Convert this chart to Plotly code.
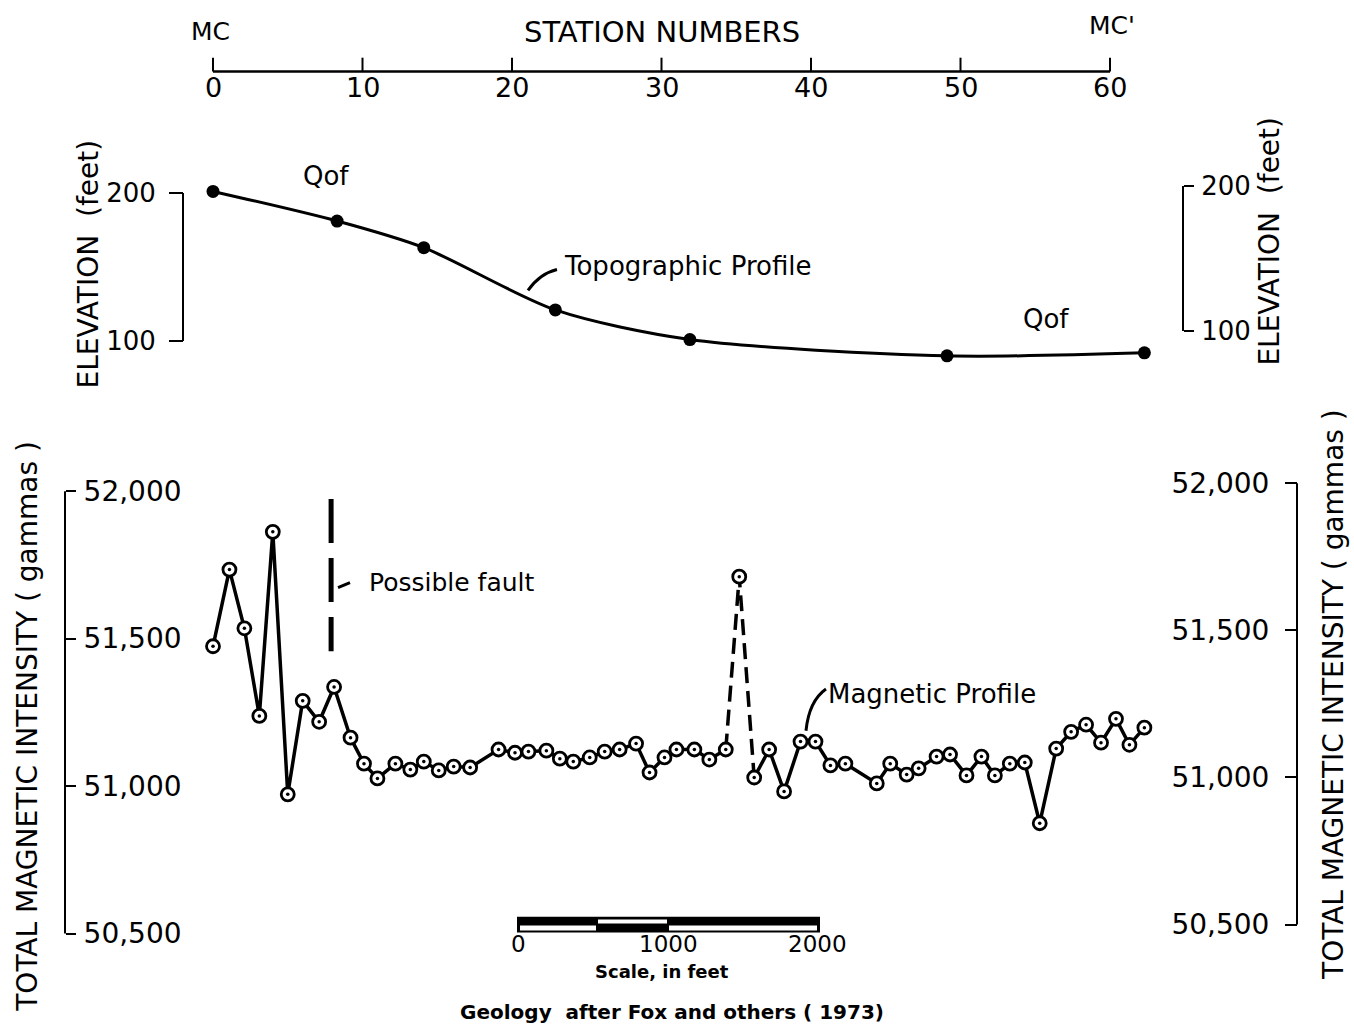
import plotly.graph_objects as go

W, H = 1354, 1026
FONT = "DejaVu Sans"

# ---------------- data ----------------
station_ticks = [0, 10, 20, 30, 40, 50, 60]

topo_station = [0.0, 8.3, 14.1, 22.9, 31.9, 49.1, 62.3]
topo_elev = [201, 181, 163, 121, 101, 90, 92]

mag_station = [0.0, 1.1, 2.1, 3.1, 4.0, 5.0, 6.0, 7.1, 8.1, 9.2,
               10.1, 11.0, 12.2, 13.2, 14.1, 15.1, 16.1, 17.2, 19.1, 20.2,
               21.1, 22.3, 23.2, 24.1, 25.2, 26.2, 27.2, 28.3, 29.2, 30.2,
               31.0, 32.2, 33.2, 34.3, 35.2, 36.2, 37.2, 38.2, 39.3, 40.3,
               41.3, 42.3, 44.4, 45.3, 46.4, 47.2, 48.4, 49.3, 50.4, 51.4,
               52.3, 53.3, 54.3, 55.3, 56.4, 57.4, 58.4, 59.4, 60.4, 61.3,
               62.3]
mag_gamma = [51474, 51734, 51535, 51238, 51862, 50972, 51289, 51218, 51336, 51164,
             51076, 51026, 51076, 51056, 51083, 51053, 51066, 51063, 51124, 51113,
             51117, 51120, 51093, 51083, 51097, 51117, 51124, 51144, 51046, 51097,
             51124, 51124, 51090, 51124, 51710, 51029, 51124, 50982, 51151, 51151,
             51070, 51076, 51009, 51076, 51039, 51060, 51100, 51107, 51036, 51100,
             51036, 51076, 51080, 50874, 51127, 51184, 51208, 51147, 51228, 51140,
             51198]
dash_start, dash_end = 33, 35   # segment drawn dashed (indices into mag arrays)

elev_ticks = [100, 200]
mag_ticks = [50500, 51000, 51500, 52000]
mag_tick_text = ["50,500", "51,000", "51,500", "52,000"]

fault_station = 7.9
fault_gamma = [51973, 51457]

scale_ticks = ["0", "1000", "2000"]

# ---------------- geometry helpers ----------------
def px(x):
    return x / W

def py(y):
    return 1 - y / H

def axis_range(v1, p1, v2, p2, top, bottom):
    k = (p2 - p1) / (v1 - v2)
    return [v1 - (bottom - p1) / k, v1 + (p1 - top) / k]

X0_PX, PX_PER_ST = 213, 14.95
x_range = [(0 - X0_PX) / PX_PER_ST, (W - X0_PX) / PX_PER_ST]

EL_TOP, EL_BOT = 150, 370
MG_TOP, MG_BOT = 470, 950
el_dom = [py(EL_BOT), py(EL_TOP)]
mg_dom = [py(MG_BOT), py(MG_TOP)]
el_range_l = axis_range(200, 189, 100, 338, EL_TOP, EL_BOT)
el_range_r = axis_range(200, 182, 100, 328, EL_TOP, EL_BOT)
mg_range_l = axis_range(52000, 489, 50500, 934, MG_TOP, MG_BOT)
mg_range_r = axis_range(52000, 481, 50500, 925, MG_TOP, MG_BOT)

fig = go.Figure()

# topographic profile
fig.add_trace(go.Scatter(
    x=topo_station, y=topo_elev, xaxis="x", yaxis="y",
    mode="lines+markers", line=dict(color="black", width=3, shape="spline", smoothing=0.8),
    marker=dict(color="black", size=13), hoverinfo="skip"))

# magnetic profile: solid / dashed / solid
fig.add_trace(go.Scatter(
    x=mag_station[:dash_start + 1], y=mag_gamma[:dash_start + 1], xaxis="x", yaxis="y3",
    mode="lines", line=dict(color="black", width=3.5), hoverinfo="skip"))
fig.add_trace(go.Scatter(
    x=mag_station[dash_start:dash_end + 1], y=mag_gamma[dash_start:dash_end + 1],
    xaxis="x", yaxis="y3", mode="lines",
    line=dict(color="black", width=3.5, dash="16px,8px"), hoverinfo="skip"))
fig.add_trace(go.Scatter(
    x=mag_station[dash_end:], y=mag_gamma[dash_end:], xaxis="x", yaxis="y3",
    mode="lines", line=dict(color="black", width=3.5), hoverinfo="skip"))
fig.add_trace(go.Scatter(
    x=mag_station, y=mag_gamma, xaxis="x", yaxis="y3", mode="markers",
    marker=dict(symbol="circle", size=13, color="white", line=dict(color="black", width=2.8)),
    hoverinfo="skip"))
fig.add_trace(go.Scatter(
    x=mag_station, y=mag_gamma, xaxis="x", yaxis="y3", mode="markers",
    marker=dict(symbol="circle", size=3.5, color="black"), hoverinfo="skip"))

tickfont = dict(family=FONT, size=26, color="black")
magtickfont = dict(family=FONT, size=28, color="black")
common_y = dict(showgrid=False, zeroline=False, showline=False, ticks="outside",
                tickcolor="black", tickwidth=2, anchor="free")

shapes = []
annotations = []

# ---- top station scale ----
TOP_LINE = 67
shapes.append(dict(type="line", xref="x", yref="paper", x0=station_ticks[0], x1=station_ticks[-1],
                   y0=py(TOP_LINE), y1=py(TOP_LINE), line=dict(color="black", width=2.5)))
for s in station_ticks:
    shapes.append(dict(type="line", xref="x", yref="paper", x0=s, x1=s,
                       y0=py(TOP_LINE), y1=py(53), line=dict(color="black", width=2)))
    annotations.append(dict(x=s, y=py(83), xref="x", yref="paper", text=str(s), showarrow=False,
                            xanchor="center", yanchor="middle",
                            font=dict(family=FONT, size=27, color="black")))
annotations += [
    dict(x=px(210), y=py(27), text="MC", font=dict(family=FONT, size=25, color="black")),
    dict(x=px(1112), y=py(21), text="MC'", font=dict(family=FONT, size=25, color="black")),
    dict(x=px(662), y=py(27), text="STATION NUMBERS", font=dict(family=FONT, size=29, color="black")),
]

# ---- axis lines ----
shapes += [
    dict(type="line", xref="paper", yref="y", x0=px(183), x1=px(183), y0=100, y1=200,
         line=dict(color="black", width=2)),
    dict(type="line", xref="paper", yref="y2", x0=px(1183), x1=px(1183), y0=100, y1=200,
         line=dict(color="black", width=2)),
    dict(type="line", xref="paper", yref="y3", x0=px(65), x1=px(65), y0=50500, y1=52000,
         line=dict(color="black", width=2)),
    dict(type="line", xref="paper", yref="y4", x0=px(1297), x1=px(1297), y0=50500, y1=52000,
         line=dict(color="black", width=2)),
]

# ---- possible fault ----
shapes.append(dict(type="line", xref="x", yref="y3", x0=fault_station, x1=fault_station,
                   y0=fault_gamma[0], y1=fault_gamma[1],
                   line=dict(color="black", width=5, dash="44px,15px")))

# leader strokes
shapes += [
    dict(type="path", xref="paper", yref="paper",
         path=f"M {px(338):.5f},{py(586):.5f} L {px(350):.5f},{py(581):.5f}",
         line=dict(color="black", width=3)),
    dict(type="path", xref="paper", yref="paper",
         path=f"M {px(806):.5f},{py(730):.5f} Q {px(809):.5f},{py(700):.5f} {px(826):.5f},{py(688):.5f}",
         line=dict(color="black", width=3)),
    dict(type="path", xref="paper", yref="paper",
         path=f"M {px(528):.5f},{py(287):.5f} Q {px(540):.5f},{py(270):.5f} {px(557):.5f},{py(266):.5f}",
         line=dict(color="black", width=3)),
]

lab = dict(family=FONT, size=26, color="black")
annotations += [
    dict(x=px(326), y=py(172), text="Qof", font=lab),
    dict(x=px(1046), y=py(316), text="Qof", font=lab),
    dict(x=px(688), y=py(263), text="Topographic Profile", font=lab),
    dict(x=px(932), y=py(693), text="Magnetic Profile", font=lab),
    dict(x=px(452), y=py(581), text="Possible fault", font=dict(family=FONT, size=25, color="black")),
]

# ---- axis titles ----
title_font = dict(family=FONT, size=28, color="black")
annotations += [
    dict(x=px(88), y=py(260), text="ELEVATION  (feet)", textangle=-90, font=title_font),
    dict(x=px(1270), y=py(238), text="ELEVATION  (feet)", textangle=-90, font=title_font),
    dict(x=px(28), y=py(726), text="TOTAL MAGNETIC INTENSITY ( gammas )", textangle=-90,
         font=title_font),
    dict(x=px(1334), y=py(694), text="TOTAL MAGNETIC INTENSITY ( gammas )", textangle=-90,
         font=title_font),
]

# ---- scale bar ----
shapes += [
    dict(type="rect", xref="paper", yref="paper", x0=px(517), x1=px(820), y0=py(933), y1=py(917),
         fillcolor="black", line=dict(width=0)),
    dict(type="rect", xref="paper", yref="paper", x0=px(598), x1=px(667), y0=py(924), y1=py(920),
         fillcolor="white", line=dict(width=0)),
    dict(type="rect", xref="paper", yref="paper", x0=px(520), x1=px(596), y0=py(931), y1=py(926),
         fillcolor="white", line=dict(width=0)),
    dict(type="rect", xref="paper", yref="paper", x0=px(669), x1=px(817), y0=py(931), y1=py(926),
         fillcolor="white", line=dict(width=0)),
]
for t, xx in zip(scale_ticks, [518, 668, 818]):
    annotations.append(dict(x=px(xx), y=py(945), text=t, font=dict(family=FONT, size=23, color="black")))
annotations += [
    dict(x=px(662), y=py(972), text="<b>Scale, in feet</b>", font=dict(family=FONT, size=18, color="black")),
    dict(x=px(672), y=py(1013), text="<b>Geology  after Fox and others ( 1973)</b>",
         font=dict(family=FONT, size=20, color="black")),
]

for a in annotations:
    a.setdefault("xref", "paper")
    a.setdefault("yref", "paper")
    a.setdefault("showarrow", False)
    a.setdefault("xanchor", "center")
    a.setdefault("yanchor", "middle")

fig.update_layout(
    width=W, height=H, margin=dict(l=0, r=0, t=0, b=0),
    paper_bgcolor="white", plot_bgcolor="white", showlegend=False,
    xaxis=dict(domain=[0, 1], range=x_range, visible=False, anchor="y"),
    yaxis=dict(domain=el_dom, range=el_range_l, position=px(183), side="left",
               tickvals=elev_ticks, ticklen=14, ticklabelstandoff=8, tickfont=tickfont, **common_y),
    yaxis2=dict(overlaying="y", range=el_range_r, position=px(1183), side="right",
                tickvals=elev_ticks, ticklen=10, ticklabelstandoff=2, tickfont=tickfont, **common_y),
    yaxis3=dict(domain=mg_dom, range=mg_range_l, position=px(65), side="right",
                tickvals=mag_ticks, ticktext=mag_tick_text, ticklen=10, ticklabelstandoff=2,
                tickfont=magtickfont, **common_y),
    yaxis4=dict(overlaying="y3", range=mg_range_r, position=px(1297), side="left",
                tickvals=mag_ticks, ticktext=mag_tick_text, ticklen=12, ticklabelstandoff=10,
                tickfont=magtickfont, **common_y),
    shapes=shapes, annotations=annotations,
)

fig.write_html("out.html")
